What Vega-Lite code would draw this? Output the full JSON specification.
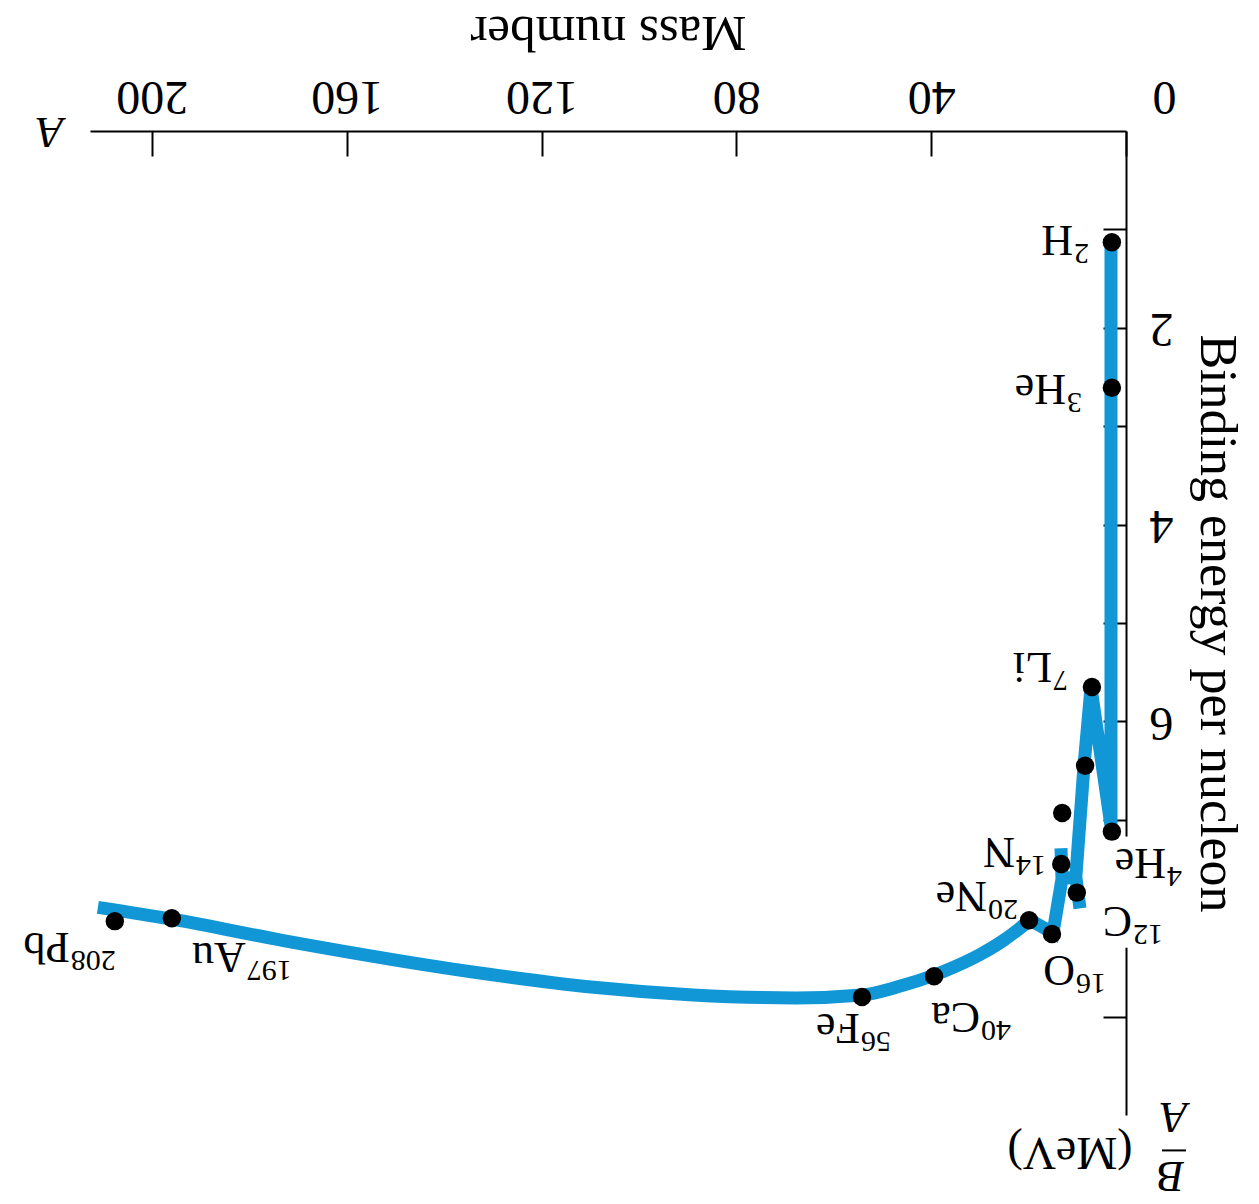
{
  "$schema": "https://vega.github.io/schema/vega-lite/v6.json",
  "width": 1036,
  "height": 984,
  "autosize": "none",
  "padding": {"left": 90, "top": 131, "right": 133, "bottom": 89},
  "background": "white",
  "config": {
    "view": {"stroke": null},
    "font": "Liberation Serif",
    "axis": {"grid": false, "domainColor": "black", "domainWidth": 2, "tickColor": "black", "tickWidth": 2, "labelColor": "black", "titleColor": "black", "labelFont": "Liberation Serif", "titleFont": "Liberation Serif", "titleFontWeight": "normal"}
  },
  "encoding": {
    "x": {
      "field": "A", "type": "quantitative",
      "scale": {"domain": [0, 212.7], "reverse": true, "nice": false, "zero": false},
      "axis": {
        "orient": "top",
        "values": [0, 40, 80, 120, 160, 200],
        "title": "Mass number",
        "titleAngle": 180, "titleFontSize": 51,
        "titleX": 518, "titleY": -100, "titleAlign": "center", "titleBaseline": "middle",
        "labelAngle": 180, "labelFontSize": 48, "labelAlign": "center", "labelBaseline": "top",
        "labelPadding": 37, "labelFlush": false, "labelOverlap": false,
        "labelOffset": {"condition": {"test": "datum.value === 0", "value": 38}, "value": 0},
        "tickSize": -25
      }
    },
    "y": {
      "field": "B", "type": "quantitative",
      "scale": {"domain": [0, 10], "reverse": true, "nice": false, "zero": false},
      "axis": {
        "orient": "right",
        "values": [1, 2, 3, 4, 5, 6, 7, 9],
        "labelExpr": "datum.value % 2 === 0 ? datum.label : ''",
        "title": "Binding energy per nucleon",
        "titleAngle": 90, "titleFontSize": 52,
        "titleX": 90, "titleY": 492, "titleAlign": "center", "titleBaseline": "middle",
        "labelAngle": 180, "labelFontSize": 48, "labelAlign": "right", "labelBaseline": "middle",
        "labelPadding": 46, "labelOverlap": false, "labelFlush": false,
        "tickSize": -23
      }
    }
  },
  "layer": [
    {
      "data": {"values": [
        {"A": 0, "B": 7.17, "B2": 8.3}
      ]},
      "mark": {"type": "rule", "color": "white", "strokeWidth": 6},
      "encoding": {"y2": {"field": "B2"}}
    },
    {
      "data": {"values": [
        {"order": 1, "A": 3.08, "B": 1.13},
        {"order": 2, "A": 3.08, "B": 7.06},
        {"order": 3, "A": 7.19, "B": 5.66},
        {"order": 4, "A": 8.62, "B": 6.45},
        {"order": 5, "A": 10.3, "B": 7.58},
        {"order": 6, "A": 9.45, "B": 7.90},
        {"order": 7, "A": 10.3, "B": 7.58},
        {"order": 8, "A": 13.14, "B": 7.6},
        {"order": 9, "A": 13.35, "B": 7.29},
        {"order": 10, "A": 13.14, "B": 7.6},
        {"order": 11, "A": 14.99, "B": 8.15},
        {"order": 12, "A": 19.71, "B": 8.02}
      ]},
      "mark": {"type": "line", "color": "#1196d6", "strokeWidth": 13, "strokeCap": "butt", "strokeJoin": "miter"},
      "encoding": {"order": {"field": "order", "type": "quantitative"}}
    },
    {
      "data": {"values": [
        {"A": 19.71, "B": 8.02},
        {"A": 22.0, "B": 8.11},
        {"A": 25.0, "B": 8.22},
        {"A": 30.0, "B": 8.37},
        {"A": 35.0, "B": 8.49},
        {"A": 39.43, "B": 8.58},
        {"A": 47.02, "B": 8.70},
        {"A": 54.21, "B": 8.78},
        {"A": 67.76, "B": 8.81},
        {"A": 88.91, "B": 8.78},
        {"A": 109.86, "B": 8.70},
        {"A": 130.80, "B": 8.57},
        {"A": 172.69, "B": 8.23},
        {"A": 195.89, "B": 8.01},
        {"A": 211.09, "B": 7.89}
      ]},
      "mark": {"type": "line", "color": "#1196d6", "strokeWidth": 13, "strokeCap": "butt", "interpolate": "monotone"}
    },
    {
      "data": {"values": [
        {"nuclide": "2H", "A": 2.9, "B": 1.13},
        {"nuclide": "3He", "A": 2.9, "B": 2.61},
        {"nuclide": "4He", "A": 2.9, "B": 7.12},
        {"nuclide": "7Li", "A": 7.0, "B": 5.65},
        {"nuclide": "9Be", "A": 8.4, "B": 6.45},
        {"nuclide": "11B", "A": 13.1, "B": 6.93},
        {"nuclide": "14N", "A": 13.3, "B": 7.45},
        {"nuclide": "12C", "A": 10.1, "B": 7.74},
        {"nuclide": "16O", "A": 15.2, "B": 8.16},
        {"nuclide": "20Ne", "A": 19.9, "B": 8.02},
        {"nuclide": "40Ca", "A": 39.4, "B": 8.59},
        {"nuclide": "56Fe", "A": 54.2, "B": 8.80},
        {"nuclide": "197Au", "A": 195.9, "B": 8.00},
        {"nuclide": "208Pb", "A": 207.6, "B": 8.03}
      ]},
      "mark": {"type": "circle", "color": "black", "opacity": 1, "size": 340}
    },
    {
      "data": {"name": "labels", "values": [
        {"mass": "2", "symbol": "H", "A": 10.88, "B": 1.10},
        {"mass": "3", "symbol": "He", "A": 12.32, "B": 2.61},
        {"mass": "4", "symbol": "He", "A": -8.21, "B": 7.43},
        {"mass": "7", "symbol": "Li", "A": 15.2, "B": 5.44},
        {"mass": "12", "symbol": "C", "A": -1.23, "B": 8.02},
        {"mass": "14", "symbol": "N", "A": 22.79, "B": 7.32},
        {"mass": "16", "symbol": "O", "A": 10.47, "B": 8.52},
        {"mass": "20", "symbol": "Ne", "A": 28.54, "B": 7.76},
        {"mass": "40", "symbol": "Ca", "A": 29.98, "B": 8.99},
        {"mass": "56", "symbol": "Fe", "A": 54.62, "B": 9.11},
        {"mass": "197", "symbol": "Au", "A": 180.7, "B": 8.38},
        {"mass": "208", "symbol": "Pb", "A": 216.84, "B": 8.28}
      ]},
      "layer": [
        {
          "mark": {"type": "text", "angle": 180, "align": "left", "baseline": "middle", "fontSize": 44, "font": "Liberation Serif", "color": "black"},
          "encoding": {"text": {"field": "symbol"}}
        },
        {
          "mark": {"type": "text", "angle": 180, "align": "right", "baseline": "middle", "dy": -14, "dx": -1, "fontSize": 30, "font": "Liberation Serif", "color": "black"},
          "encoding": {"text": {"field": "mass"}}
        }
      ]
    },
    {
      "data": {"values": [
        {"label": "A", "A": 220.9, "B": 0.0},
        {"label": "A", "A": -9.86, "B": 10.01},
        {"label": "B", "A": -9.24, "B": 10.61}
      ]},
      "mark": {"type": "text", "angle": 180, "align": "center", "baseline": "middle", "fontSize": 44, "fontStyle": "italic", "font": "Liberation Serif", "color": "black"},
      "encoding": {"text": {"field": "label"}}
    },
    {
      "data": {"values": [
        {"label": "(MeV)", "A": 11.5, "B": 10.38}
      ]},
      "mark": {"type": "text", "angle": 180, "align": "center", "baseline": "middle", "fontSize": 46, "font": "Liberation Serif", "color": "black"},
      "encoding": {"text": {"field": "label"}}
    },
    {
      "data": {"values": [
        {"A": -7.39, "A2": -12.32, "B": 10.36}
      ]},
      "mark": {"type": "rule", "color": "black", "strokeWidth": 2},
      "encoding": {"x2": {"field": "A2"}}
    }
  ]
}
